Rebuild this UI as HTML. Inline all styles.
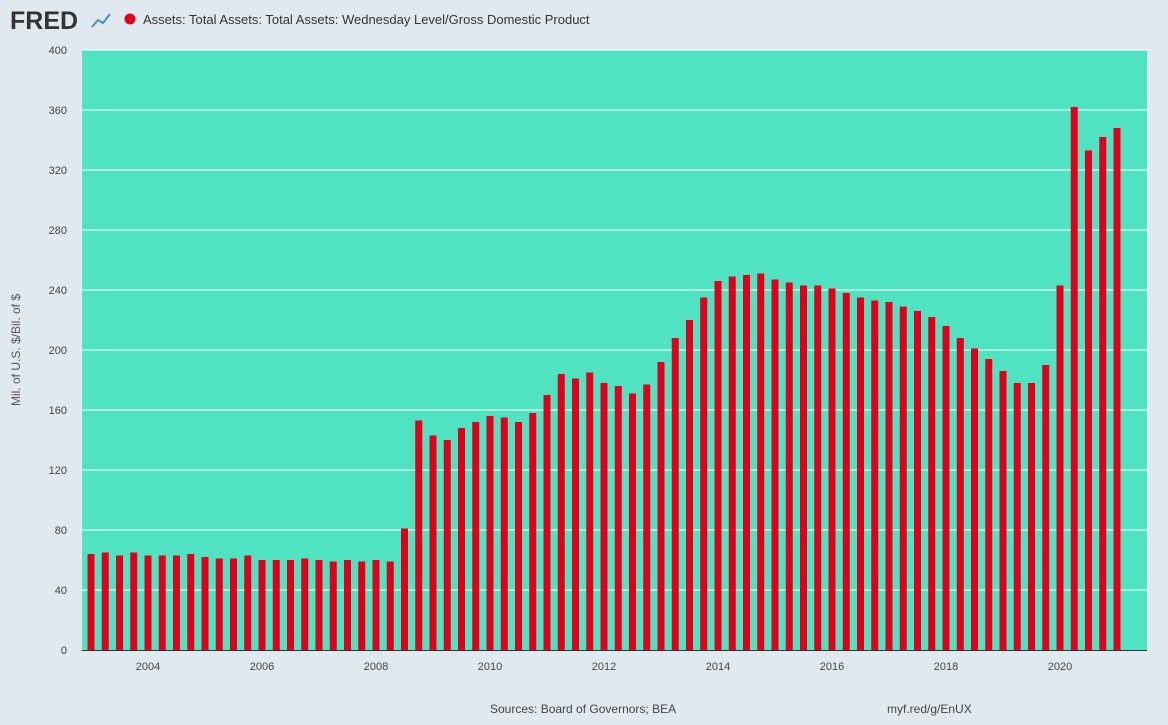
<!DOCTYPE html>
<html><head><meta charset="utf-8"><style>
body{margin:0;background:#e1e9f0;font-family:"Liberation Sans",sans-serif;}
#wrap{position:relative;width:1168px;height:720px;background:#e1e9f0;}
</style></head><body>
<div id="wrap">
<svg id="chart" width="1168" height="720" xmlns="http://www.w3.org/2000/svg">
<text x="10" y="29" font-size="25" font-weight="bold" fill="#333" font-family="Liberation Sans, sans-serif">FRED</text>
<polyline points="92,27 98,20 103,23 110,14" fill="none" stroke="#4a8fc7" stroke-width="2"/>
<circle cx="130" cy="19" r="5.5" fill="#e0001b"/>
<text x="143" y="24" font-size="13" fill="#333">Assets: Total Assets: Total Assets: Wednesday Level/Gross Domestic Product</text>
<rect x="82" y="50" width="1065" height="600" fill="#50e3c2"/>
<g id="grid"></g>
<g id="bars"></g>
<g id="yticks"></g>
<g id="xticks"></g>
<text transform="translate(20,350) rotate(-90)" text-anchor="middle" font-size="12" fill="#555">Mil. of U.S. $/Bil. of $</text>
<text x="490" y="713" font-size="12" fill="#444">Sources: Board of Governors; BEA</text>
<text x="887" y="713" font-size="12" fill="#444">myf.red/g/EnUX</text>
</svg>
</div>
<script>
const startYear = 2003;
const values = [64,65,63,65, 63,63,63,64, 62,61,61,63, 60,60,60,61, 60,59,60,59,
 60,59,81,153, 143,140,148,152, 156,155,152,158, 170,184,181,185, 178,176,171,177,
 192,208,220,235, 246,249,250,251, 247,245,243,243, 241,238,235,233, 232,229,226,222,
 216,208,201,194, 186,178,178,190, 243,362,333,342, 348];
const yTicks = [0,40,80,120,160,200,240,280,320,360,400];
const xTickYears = [2004,2006,2008,2010,2012,2014,2016,2018,2020];
const NS="http://www.w3.org/2000/svg";
const y0=650, yScale=600/400;
function yPos(v){return y0 - v*yScale;}
function xPos(t){return 148 + (t-2004)*57;}
const grid=document.getElementById('grid'), bars=document.getElementById('bars'),
 yt=document.getElementById('yticks'), xt=document.getElementById('xticks');
yTicks.forEach(v=>{
 if(v>0){const l=document.createElementNS(NS,'line');
 l.setAttribute('x1',82);l.setAttribute('x2',1147);l.setAttribute('y1',yPos(v));l.setAttribute('y2',yPos(v));
 l.setAttribute('stroke','#fff');l.setAttribute('stroke-width','1');
 
 
 grid.appendChild(l);}
 const t=document.createElementNS(NS,'text');
 t.setAttribute('x',67);t.setAttribute('y',yPos(v)+4);t.setAttribute('text-anchor','end');
 t.setAttribute('font-size','11');t.setAttribute('fill','#444');t.textContent=v;
 
 
 yt.appendChild(t);
});
values.forEach((v,i)=>{
 const t=startYear+i/4;
 const r=document.createElementNS(NS,'rect');
 r.setAttribute('x',xPos(t)-3.5);r.setAttribute('width',7);
 r.setAttribute('y',yPos(v));r.setAttribute('height',y0-yPos(v));
 r.setAttribute('fill','#e0001b');
 
 
 bars.appendChild(r);
});
const ax=document.createElementNS(NS,'line');
ax.setAttribute('x1',82);ax.setAttribute('x2',1147);ax.setAttribute('y1',650.5);ax.setAttribute('y2',650.5);
ax.setAttribute('stroke','#333');


xt.appendChild(ax);
xTickYears.forEach(y=>{
 const t=document.createElementNS(NS,'text');
 t.setAttribute('x',xPos(y));t.setAttribute('y',670);t.setAttribute('text-anchor','middle');
 t.setAttribute('font-size','11');t.setAttribute('fill','#444');t.textContent=y;
 
 
 xt.appendChild(t);
});
</script>
</body></html>
